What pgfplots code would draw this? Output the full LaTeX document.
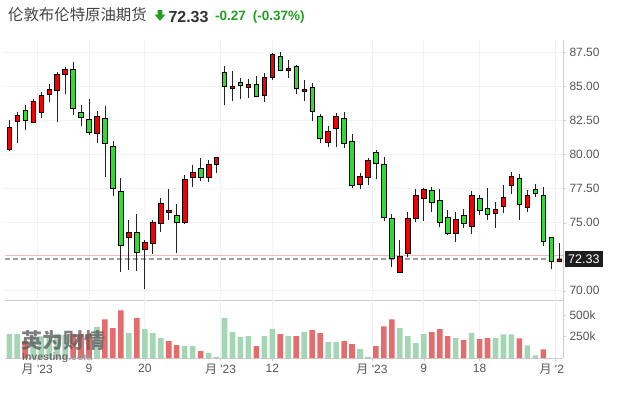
\documentclass[border=0pt]{standalone}
\usepackage{pgfplots}
\usepackage{pgfplotstable}
\pgfplotsset{compat=1.18}
\usepackage{fontspec}
\setmainfont{Liberation Sans}
\newfontfamily\cjk{Noto Sans CJK SC}

\definecolor{cred}{RGB}{245,0,0}
\definecolor{cgreen}{RGB}{46,222,46}
\definecolor{vgreen}{RGB}{164,214,182}
\definecolor{vred}{RGB}{227,108,108}
\definecolor{gridgray}{RGB}{242,242,242}
\definecolor{axisgray}{RGB}{205,205,205}
\definecolor{labgray}{RGB}{85,85,85}
\definecolor{titlegray}{RGB}{68,68,68}
\definecolor{pricegray}{RGB}{51,51,51}
\definecolor{pgreen}{RGB}{33,160,33}
\definecolor{pinkline}{RGB}{245,185,185}
\definecolor{dashgray}{RGB}{160,160,160}
\definecolor{boxblack}{RGB}{30,30,30}
\definecolor{wick}{RGB}{34,34,34}
\definecolor{wmgray}{RGB}{95,95,95}
\definecolor{wmlight}{RGB}{150,150,150}

\pgfplotstableread{
i o h l c
1 80.38 82.53 80.28 81.99
2 82.43 83.14 80.82 82.87
3 83.24 83.61 81.77 82.50
4 82.36 84.10 82.28 83.92
5 83.12 84.56 82.65 84.34
6 84.41 85.15 83.88 84.78
7 84.71 86.03 82.41 85.88
8 85.88 86.40 84.41 86.25
9 86.25 86.76 82.87 83.39
10 83.09 83.61 82.11 82.73
11 82.58 84.05 81.43 81.62
12 81.53 83.19 80.82 82.80
13 82.65 83.56 78.37 80.82
14 80.60 80.96 76.92 77.51
15 77.29 78.25 71.34 73.33
16 73.91 75.16 71.54 74.28
17 74.28 75.63 71.42 72.81
18 73.03 73.69 70.10 73.57
19 73.47 75.16 72.67 75.02
20 74.94 76.78 74.28 76.41
21 75.75 77.44 75.16 75.90
22 75.53 76.34 72.74 75.02
23 75.02 78.47 74.87 78.17
24 78.32 79.20 77.59 78.69
25 78.98 79.72 78.03 78.32
26 78.32 79.57 77.95 79.27
27 79.27 79.84 78.61 79.79
28 86.03 86.49 83.61 85.00
29 84.85 86.10 83.90 85.00
30 85.30 85.59 84.05 85.08
31 84.93 85.52 84.12 85.15
32 85.15 85.74 84.19 84.27
33 84.34 85.96 83.83 85.66
34 85.66 87.42 85.44 87.35
35 87.20 87.50 86.10 86.18
36 86.18 86.91 85.59 86.32
37 86.47 86.54 84.41 84.85
38 84.63 85.44 83.90 84.78
39 84.93 85.22 82.43 83.17
40 82.80 82.95 80.82 81.18
41 80.89 82.07 80.52 81.70
42 81.92 83.02 80.52 82.80
43 82.65 83.09 80.45 80.82
44 80.96 81.48 77.51 77.73
45 77.81 78.61 77.44 78.39
46 78.32 79.72 77.73 79.57
47 80.16 80.30 78.17 79.35
48 79.27 79.79 75.09 75.38
49 75.31 75.60 71.71 72.35
50 71.34 73.69 71.34 72.52
51 72.74 75.75 72.45 75.31
52 75.31 77.44 75.02 77.00
53 76.78 77.51 75.09 77.44
54 77.37 77.59 75.75 76.48
55 76.63 77.44 74.65 75.02
56 75.38 75.90 74.06 74.21
57 74.21 75.75 73.55 75.24
58 75.53 75.97 74.58 74.94
59 74.72 77.29 74.14 77.00
60 76.78 77.00 75.53 75.90
61 76.04 77.51 75.16 75.60
62 75.68 76.48 74.58 75.97
63 76.19 77.73 75.68 76.85
64 77.73 78.69 77.07 78.39
65 78.25 78.54 75.16 76.34
66 76.12 77.37 75.75 77.00
67 77.44 77.81 76.85 77.15
68 77.00 77.59 73.25 73.62
69 73.91 73.91 71.57 72.15
70 72.15 73.47 72.08 72.30
}\ohlc

\pgfplotstableread{
i v r
1 277 0
2 277 0
3 200 1
4 260 0
5 250 0
6 240 0
7 280 0
8 270 0
9 280 1
10 277 1
11 277 1
12 362 0
13 450 1
14 346 1
15 554 1
16 288 0
17 462 1
18 335 0
19 288 0
20 231 0
21 196 1
22 150 1
23 138 0
24 138 0
25 81 1
26 58 0
27 12 0
28 462 0
29 300 0
30 242 0
31 254 0
32 138 1
33 254 0
34 335 0
35 277 1
36 254 0
37 254 1
38 300 0
39 323 1
40 288 1
41 185 0
42 185 0
43 196 1
44 162 1
45 104 0
46 12 0
47 138 1
48 369 1
49 450 1
50 346 0
51 254 0
52 173 0
53 277 0
54 300 1
55 335 1
56 254 1
57 231 0
58 208 1
59 288 0
60 219 1
61 231 1
62 231 0
63 276 0
64 276 0
65 229 1
66 148 0
67 31 0
68 101 1
}\vol

\newcommand{\yue}{{\cjk 月}}

\begin{document}
\begin{tikzpicture}
\path[use as bounding box] (0bp,0bp) rectangle (625bp,-395bp);
\pgfplotsset{
  common/.style={width=558bp, scale only axis, xmin=0.46, xmax=70.47, anchor=north west},
}
% ---------------- price panel: grid, axis, wicks
\begin{axis}[common, at={(5bp,-40bp)}, height=260bp, ymin=69.32, ymax=88.40,
  axis x line*=bottom, axis y line*=right, axis line style={draw=axisgray,-},
  xtick={4.5,11,18,27.5,34,46.5,53,60,69.5}, xticklabels={}, xtick style={draw=none},
  ytick={70,75,77.5,80,82.5,85,87.5}, ytick pos=right, yticklabel pos=right,
  tick align=outside, major tick length=3bp, ytick style={draw=axisgray},
  yticklabel={\pgfmathprintnumber[fixed,fixed zerofill,precision=2,assume math mode=true]{\tick}},
  yticklabel style={font=\fontsize{12bp}{14bp}\selectfont, text=labgray},
  grid=major, major grid style={draw=gridgray, line width=0.7bp},
]
\addplot[pinkline, line width=0.8bp] coordinates {(0.46,72.60) (70.47,72.60)};
\addplot[dashgray, line width=1.3bp, dash pattern=on 5bp off 3bp] coordinates {(0.46,72.33) (70.47,72.33)};
\addplot[draw=none, mark=none, error bars/.cd, y dir=plus, y explicit, error mark=none,
  error bar style={draw=wick, line width=0.8bp}]
  table[x=i, y=l, y error expr={\thisrow{h}-\thisrow{l}}] {\ohlc};
\coordinate (lastp) at (axis cs:70.47,72.33);
\end{axis}
% ---------------- candle bodies
\begin{axis}[common, at={(5bp,-40bp)}, height=260bp, ymin=69.32, ymax=88.40,
  hide axis, ybar stacked, bar width=4.6bp]
\addplot[draw=none, fill=none] table[x=i, y expr={min(\thisrow{o},\thisrow{c})}] {\ohlc};
\addplot[fill=cred, draw=black, line width=0.7bp] table[x=i, y expr={\thisrow{c}>\thisrow{o} ? \thisrow{c}-\thisrow{o} : 0}] {\ohlc};
\addplot[fill=cgreen, draw=black, line width=0.7bp] table[x=i, y expr={\thisrow{c}>\thisrow{o} ? 0 : \thisrow{o}-\thisrow{c}}] {\ohlc};
\end{axis}
% ---------------- volume panel
\begin{axis}[common, at={(5bp,-300bp)}, height=58bp, ymin=0, ymax=674,
  axis x line*=bottom, axis y line*=right, axis line style={draw=axisgray,-},
  xtick={4.5,11,18,27.5,34,46.5,53,60},
  xticklabels={\yue{} \textquotesingle23, 9, 20, \yue{} \textquotesingle23, 12, \yue{} \textquotesingle23, 9, 18},
  extra x ticks={69.5}, extra x tick labels={\yue{} \textquotesingle2},
  extra x tick style={xmajorgrids, xticklabel style={xshift=-3.5bp}},
  xtick pos=bottom, xmajorgrids, major grid style={draw=gridgray, line width=0.7bp},
  ytick={250,500}, yticklabels={250k,500k}, ytick pos=right, yticklabel pos=right,
  tick align=outside, major tick length=3bp, tick style={draw=axisgray},
  ticklabel style={font=\fontsize{12bp}{14bp}\selectfont, text=labgray},
  ybar, bar width=5.6bp]
\addplot[fill=vgreen, draw=none, bar shift=0pt] table[x=i, y expr={\thisrow{r}==0 ? \thisrow{v} : 0}] {\vol};
\addplot[fill=vred, draw=none, bar shift=0pt] table[x=i, y expr={\thisrow{r}==1 ? \thisrow{v} : 0}] {\vol};
\end{axis}
% ---------------- watermark
\node[anchor=west, inner sep=0, text=wmgray, opacity=0.8, font=\cjk\bfseries\fontsize{21bp}{21bp}\selectfont] at (21.5bp,-341bp) {英为财情};
\node[anchor=base west, inner sep=0, opacity=0.85, font=\bfseries\fontsize{10.5bp}{11bp}\selectfont] at (22bp,-360bp) {\textcolor{wmgray}{Investing}\textcolor{wmlight}{.com}};
% ---------------- last price box
\node[anchor=west, fill=boxblack, text=white, inner xsep=3.5bp, inner ysep=0pt, minimum height=15.5bp, font=\fontsize{12.5bp}{13bp}\selectfont] at ([xshift=1.5bp]lastp) {72.33};
% ---------------- title
\node[anchor=base west, text=titlegray, inner sep=0, font=\cjk\fontsize{15.4bp}{16bp}\selectfont] at (8bp,-20.8bp) {伦敦布伦特原油期货};
\fill[pgreen] (157.7bp,-10bp) -- (162.3bp,-10bp) -- (162.3bp,-14.5bp) -- (165.5bp,-14.5bp) -- (160bp,-20.8bp) -- (154.5bp,-14.5bp) -- (157.7bp,-14.5bp) -- cycle;
\node[anchor=base west, inner sep=0, text=pricegray, font=\bfseries\fontsize{16bp}{16bp}\selectfont] at (168.3bp,-22.5bp) {72.33};
\node[anchor=base west, inner sep=0, text=pgreen, font=\bfseries\fontsize{13.5bp}{14bp}\selectfont] at (215bp,-20.8bp) {-0.27};
\node[anchor=base west, inner sep=0, text=pgreen, font=\bfseries\fontsize{13.5bp}{14bp}\selectfont] at (252.7bp,-20.8bp) {(-0.37\%)};
\end{tikzpicture}
\end{document}
